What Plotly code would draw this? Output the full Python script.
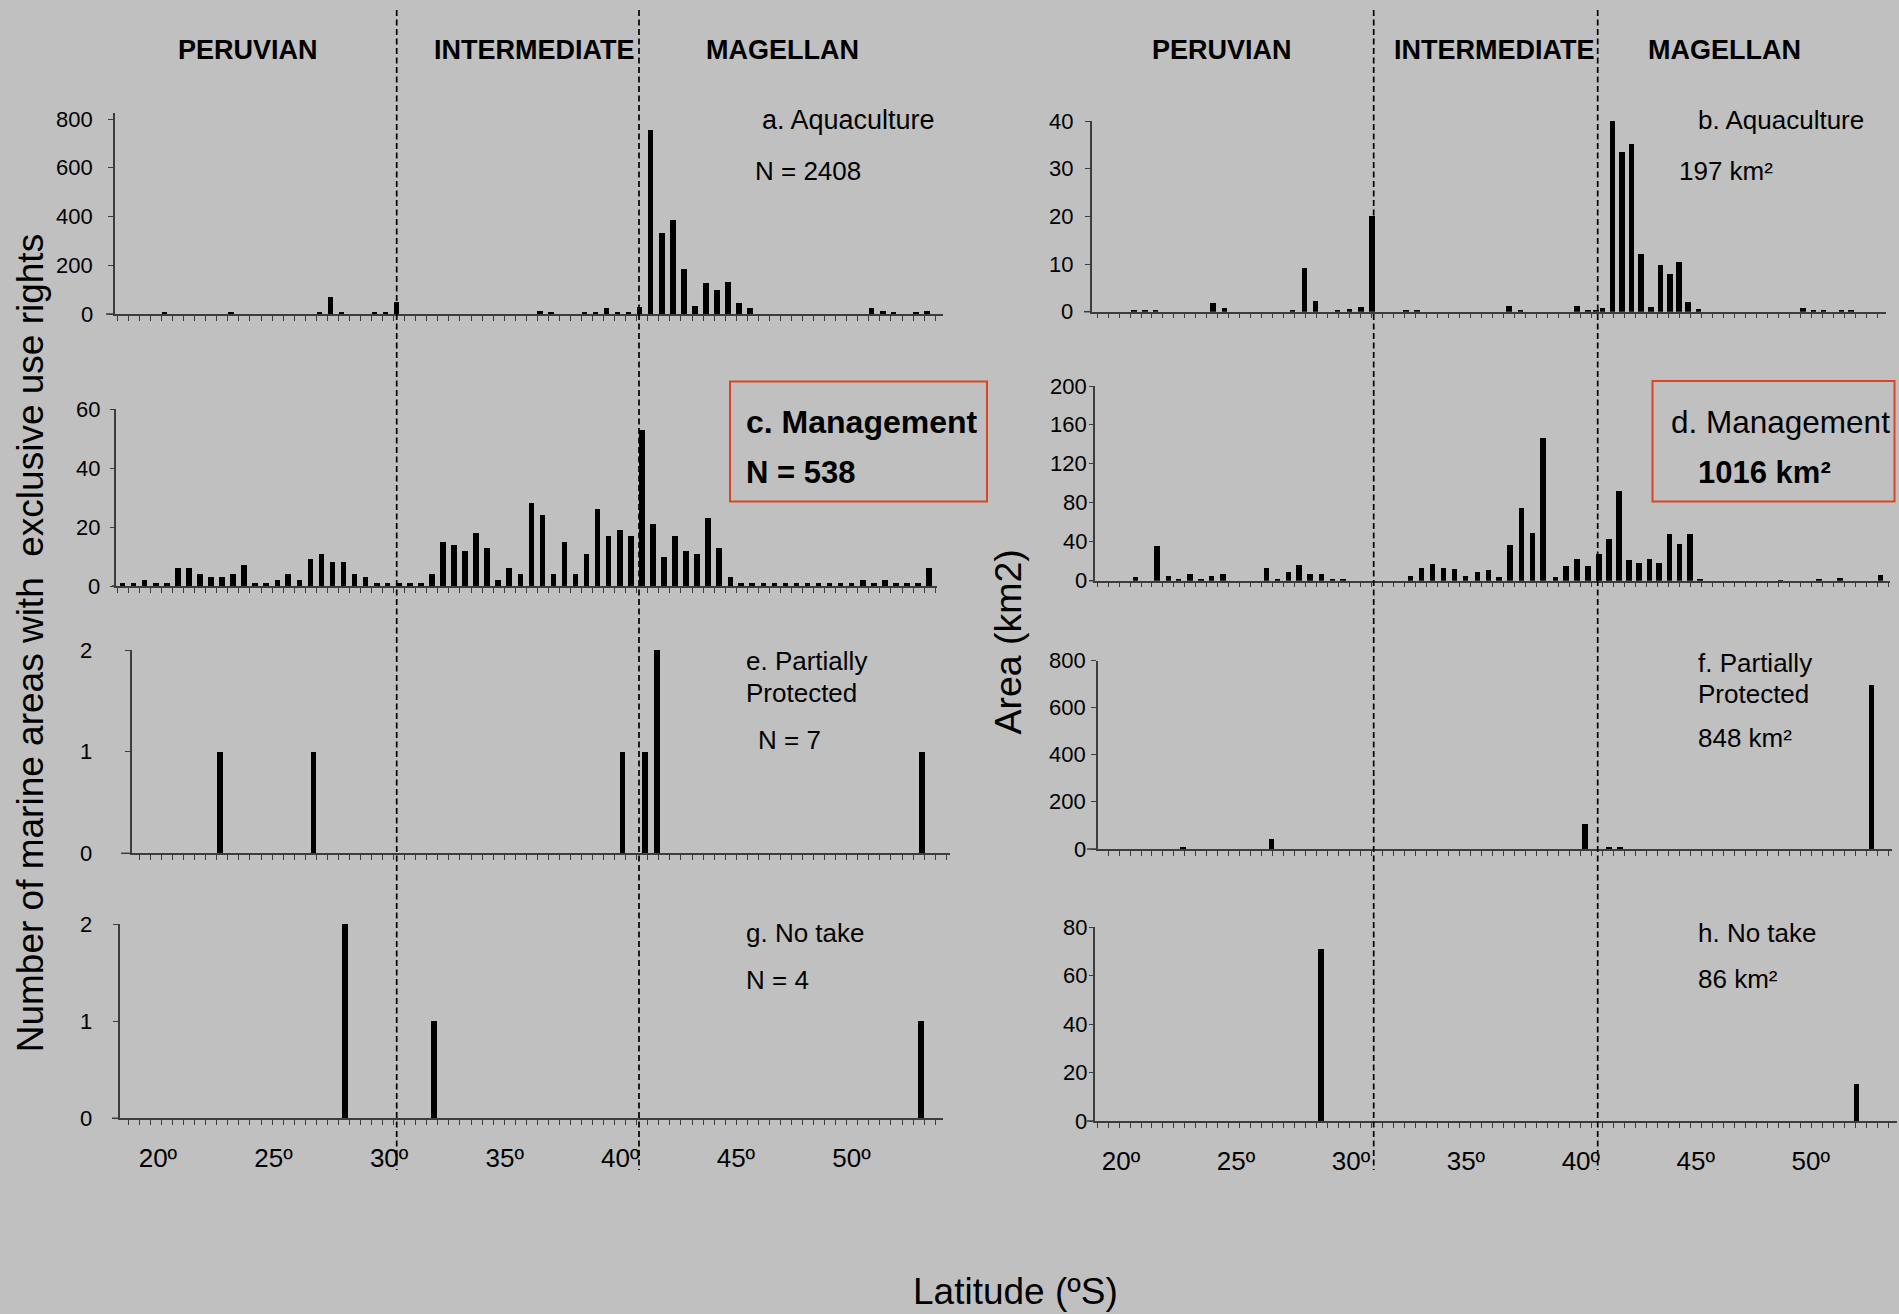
import plotly.graph_objects as go

W, H = 1899, 1314
FONT = "Liberation Sans, Arial, sans-serif"

# ---------------- data (latitude in degrees S) ----------------
tick_lats = [20, 25, 30, 35, 40, 45, 50]
tick_text = ["20\u00ba", "25\u00ba", "30\u00ba", "35\u00ba", "40\u00ba", "45\u00ba", "50\u00ba"]

# c. Management (number of areas) - one bar per latitude bin
lat_c = [18.49, 18.96, 19.44, 19.92, 20.40, 20.88, 21.35, 21.83, 22.31, 22.79,
         23.26, 23.74, 24.22, 24.70, 25.18, 25.65, 26.13, 26.61, 27.09, 27.56,
         28.04, 28.52, 29.00, 29.48, 29.95, 30.43, 30.91, 31.39, 31.86, 32.34,
         32.82, 33.30, 33.78, 34.25, 34.73, 35.21, 35.69, 36.17, 36.64, 37.12,
         37.60, 38.08, 38.55, 39.03, 39.51, 39.99, 40.47, 40.94, 41.42, 41.90,
         42.38, 42.85, 43.33, 43.81, 44.29, 44.77, 45.24, 45.72, 46.20, 46.68,
         47.15, 47.63, 48.11, 48.59, 49.07, 49.54, 50.02, 50.50, 50.98, 51.45,
         51.93, 52.41, 52.89, 53.37]
val_c = [1, 1, 2, 1, 1, 6, 6, 4, 3, 3, 4, 7, 1, 1, 2, 4, 2, 9, 11, 8,
         8, 4, 3, 1, 1, 1, 1, 1, 4, 15, 14, 12, 18, 13, 2, 6, 4, 28, 24, 4,
         15, 4, 11, 26, 17, 19, 17, 53, 21, 10, 17, 12, 11, 23, 13, 3, 1, 1, 1, 1,
         1, 1, 1, 1, 1, 1, 1, 2, 1, 2, 1, 1, 1, 6]

# a. Aquaculture (number of areas)
lat_a = [20.28, 23.15, 26.97, 27.45, 27.92, 29.36, 29.84, 30.31, 36.52, 37.00,
         38.44, 38.91, 39.39, 39.87, 40.35, 40.82, 41.30, 41.78, 42.26, 42.74,
         43.22, 43.69, 44.17, 44.65, 45.13, 45.60, 50.86, 51.34, 51.81, 52.77, 53.25]
val_a = [7, 7, 7, 71, 7, 7, 7, 47, 12, 7,
         7, 7, 23, 7, 7, 29, 755, 331, 384, 185,
         34, 126, 98, 131, 46, 23, 23, 12, 7, 7, 12]

# e. Partially protected (number)
lat_e = [22.69, 26.73, 40.10, 41.07, 41.60, 53.06]
val_e = [1, 1, 1, 1, 2, 1]

# g. No take (number)
lat_g = [28.08, 31.94, 52.99]
val_g = [2, 1, 1]

# b. Aquaculture (area km2)
lat_b = [20.57, 21.05, 21.50, 24.00, 24.50, 27.46, 27.98, 28.46, 29.41, 29.94,
         30.44, 30.92, 32.39, 32.87, 36.87, 37.37, 39.83, 40.30, 40.66, 40.95,
         41.38, 41.78, 42.21, 42.62, 43.04, 43.47, 43.88, 44.26, 44.67, 45.12,
         49.67, 50.12, 50.55, 51.34, 51.76]
val_b = [0.4, 0.4, 0.4, 1.9, 0.8, 0.4, 9.2, 2.2, 0.4, 0.6,
         1.0, 20.0, 0.4, 0.4, 1.1, 0.4, 1.1, 0.3, 0.3, 0.8,
         40.0, 33.4, 35.1, 12.2, 1.0, 9.7, 8.0, 10.5, 2.0, 0.5,
         0.8, 0.3, 0.3, 0.3, 0.3]

# d. Management (area km2)
lat_d = [20.62, 21.55, 22.05, 22.50, 22.98, 23.46, 23.93, 24.43, 26.31, 26.79,
         27.27, 27.74, 28.22, 28.70, 29.18, 29.65, 32.58, 33.06, 33.53, 34.01,
         34.49, 34.97, 35.49, 35.97, 36.44, 36.92, 37.40, 37.88, 38.35, 38.88,
         39.35, 39.83, 40.30, 40.78, 41.21, 41.64, 42.09, 42.52, 42.97, 43.40,
         43.85, 44.28, 44.73, 45.17, 48.67, 50.36, 51.26, 53.03]
val_d = [3.4, 35.6, 5.1, 2.1, 6.5, 1.4, 5.1, 6.5, 13.0, 1.4,
         9.2, 15.8, 6.5, 6.5, 2.1, 2.1, 5.1, 13.0, 16.8, 13.0,
         11.6, 5.1, 9.2, 10.6, 3.4, 36.3, 74.7, 49.3, 146.9, 3.4,
         15.4, 22.3, 15.4, 27.4, 43.2, 91.8, 20.9, 18.2, 22.3, 18.2,
         47.9, 37.7, 47.9, 2.1, 0.7, 1.7, 3.1, 6.2]

# f. Partially protected (area km2)
lat_f = [22.67, 26.53, 40.16, 41.21, 41.69, 52.62]
val_f = [11, 42, 106, 10, 10, 697]

# h. No take (area km2)
lat_h = [28.68, 51.98]
val_h = [71, 15]

# ---------------- layout helpers (pixel geometry of the reference) ----------------
def px(x):
    return x / W


def py(y):
    return 1 - y / H


# column scale: pixel = A + B * (lat - 35); third value = first minor tick
COLS = {"L": (504.7, 23.12, 18.247), "R": (1465.9, 22.99, 25.17)}


def lat_at(col, xpix):
    A, B, _ = COLS[col]
    return 35 + (xpix - A) / B


AXC = "#3c3c3c"

panels = [
    # key, col, stub_x0, x1, yaxis_x, y_bottom, y_top, yrange, dtick, label_gap, ticklen, lats, vals, labels
    ("a", "L", 106, 943, 114.7, 314, 113.2, [0, 825], 200, 20, 5, lat_a, val_a, False),
    ("c", "L", 112, 937, 116.3, 586, 409, [0, 60], 20, 14, 5, lat_c, val_c, False),
    ("e", "L", 121, 950, 132.1, 853.3, 650, [0, 2], 1, 38, 5, lat_e, val_e, False),
    ("g", "L", 112, 943, 119.7, 1118.3, 924, [0, 2], 1, 26, 5, lat_g, val_g, True),
    ("b", "R", 1084, 1886, 1092, 311.7, 121, [0, 40], 10, 17, 5, lat_b, val_b, False),
    ("d", "R", 1089, 1890, 1094.8, 580.7, 386, [0, 200], 40, 6, 4, lat_d, val_d, False),
    ("f", "R", 1087, 1892, 1097.5, 849, 660.7, [0, 800], 200, 10, 5, lat_f, val_f, False),
    ("h", "R", 1087, 1897, 1094.8, 1121, 927.3, [0, 80], 20, 6, 4, lat_h, val_h, True),
]

fig = go.Figure()
layout = {}
shapes = []
annotations = []

for k, (key, col, xs, x1, yx, yb, yt, yr, dt, gap, tl, lats, vals, labels) in enumerate(panels, start=1):
    A, B, t0 = COLS[col]
    xa = "xaxis" if k == 1 else f"xaxis{k}"
    ya = "yaxis" if k == 1 else f"yaxis{k}"
    xr = f"x{k}" if k > 1 else "x"
    yref = f"y{k}" if k > 1 else "y"
    fig.add_trace(go.Bar(x=lats, y=vals, width=0.24, marker=dict(color="black", line=dict(width=0)),
                         xaxis=xr, yaxis=yref, showlegend=False, hoverinfo="x+y"))
    xdict = dict(
        domain=[px(yx), px(x1)],
        range=[lat_at(col, yx), lat_at(col, x1)],
        anchor=yref,
        automargin=False,
        showline=True, linecolor=AXC, linewidth=1.5,
        showgrid=False, zeroline=False,
        ticks="", showticklabels=labels,
        minor=dict(ticks="outside", ticklen=5, tickwidth=1, tickcolor=AXC,
                   tick0=t0, dtick=0.478, showgrid=False),
    )
    if labels:
        xdict.update(tickmode="array", tickvals=tick_lats, ticktext=tick_text,
                     tickfont=dict(family=FONT, size=26, color="black"),
                     ticklabelstandoff=16)
    else:
        xdict.update(tickmode="linear", tick0=0, dtick=100)
    layout[xa] = xdict

    yvals = list(range(0, int(yr[1]) + 1, dt))
    layout[ya] = dict(
        domain=[py(yb), py(yt)],
        range=yr,
        anchor=xr,
        automargin=False,
        showline=True, linecolor=AXC, linewidth=1.5,
        showgrid=False, zeroline=False,
        ticks="outside", ticklen=tl, tickwidth=1, tickcolor=AXC,
        tickmode="array", tickvals=yvals, showticklabels=False,
    )
    # value labels of the y axis, placed on the axis' own scale
    for v in yvals:
        annotations.append(dict(text=str(v), x=px(yx - gap), y=v, xref="paper", yref=yref,
                                xanchor="right", yanchor="middle", showarrow=False,
                                font=dict(family=FONT, size=22, color="black")))
    # short piece of the baseline that sticks out left of the value axis
    shapes.append(dict(type="line", xref="paper", yref="paper",
                       x0=px(xs), x1=px(yx), y0=py(yb), y1=py(yb),
                       line=dict(color=AXC, width=1.5)))

# region boundaries (dashed)
for xd in (396.7, 639.0, 1373.7, 1597.7):
    shapes.append(dict(type="line", xref="paper", yref="paper",
                       x0=px(xd), x1=px(xd), y0=py(10), y1=py(1170),
                       line=dict(color="black", width=1.7, dash="6px,3.5px")))
# highlight boxes
for (bx0, by0, bx1, by1) in ((730, 381.5, 987, 501.5), (1652.5, 381, 1894.5, 501.5)):
    shapes.append(dict(type="rect", xref="paper", yref="paper",
                       x0=px(bx0), x1=px(bx1), y0=py(by1), y1=py(by0),
                       line=dict(color="#d9461f", width=2), fillcolor="rgba(0,0,0,0)"))


def ann(text, x, y, size, anchor="left", angle=0):
    annotations.append(dict(text=text, x=px(x), y=py(y), xref="paper", yref="paper",
                            xanchor=anchor, yanchor="middle", showarrow=False, textangle=angle,
                            font=dict(family=FONT, size=size, color="black")))


# region headers
for cx, name in ((248.3, "PERUVIAN"), (534, "INTERMEDIATE"), (782.4, "MAGELLAN"),
                 (1222, "PERUVIAN"), (1494.5, "INTERMEDIATE"), (1724.6, "MAGELLAN")):
    ann(f"<b>{name}</b>", cx, 49.7, 27, anchor="center")

# panel labels - left column
ann("a. Aquaculture", 760, 120, 27)
ann("N = 2408", 752.5, 171, 26)
ann("<b>c. Management</b>", 744, 421.5, 32)
ann("<b>N = 538</b>", 744, 472.3, 31)
ann("e. Partially", 744, 661, 26)
ann("Protected", 744, 692.7, 26)
ann("N = 7", 756, 740, 26)
ann("g. No take", 744, 932.5, 26)
ann("N = 4", 744, 979.8, 26)
# panel labels - right column
ann("b. Aquaculture", 1696, 120, 26)
ann("197 km\u00b2", 1676.6, 171, 26)
ann("d. Management", 1669, 421.5, 31.5)
ann("<b>1016 km\u00b2</b>", 1696, 472.3, 31)
ann("f. Partially", 1696, 662.5, 26)
ann("Protected", 1696, 694, 26)
ann("848 km\u00b2", 1696, 737.6, 26)
ann("h. No take", 1696, 932.5, 26)
ann("86 km\u00b2", 1696, 978.6, 26)

# axis titles
ann("Number of marine areas with \u00a0exclusive use rights", 30.3, 643, 37, anchor="center", angle=-90)
ann("Area (km2)", 1007.6, 642, 37.5, anchor="center", angle=-90)
ann("Latitude (\u00baS)", 1015, 1291, 37, anchor="center")

fig.update_layout(
    width=W, height=H, autosize=False,
    margin=dict(l=0, r=0, t=0, b=0, pad=0, autoexpand=False),
    paper_bgcolor="#c0c0c0", plot_bgcolor="#c0c0c0",
    showlegend=False, bargap=0,
    font=dict(family=FONT, color="black"),
    shapes=shapes, annotations=annotations,
    **layout,
)

fig.write_html(
    "out.html",
    config={"displayModeBar": False},
    post_script="document.body.style.margin='0px';document.body.style.padding='0px';"
                "document.body.style.background='#c0c0c0';"
                "document.documentElement.style.overflow='hidden';",
)
